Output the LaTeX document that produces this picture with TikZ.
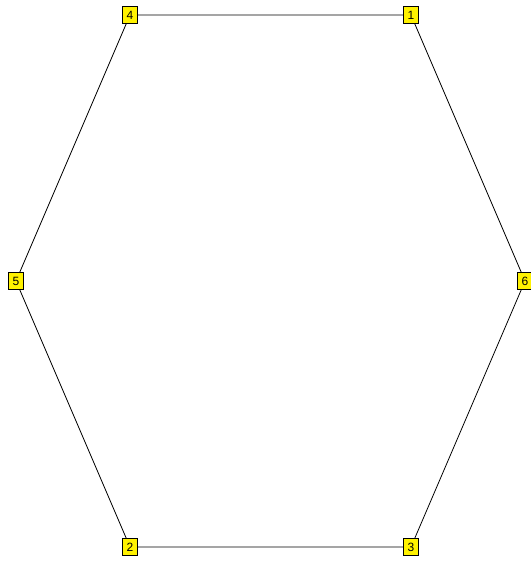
\documentclass[tikz,border=0pt]{standalone}
\usepackage{fontspec}
\setmainfont{Liberation Sans}
\begin{document}
\begin{tikzpicture}[x=1pt,y=-1pt,
  vbox/.style={draw=black,fill=yellow,line width=0.7pt,minimum width=15pt,minimum height=17pt,inner sep=0pt,font=\fontsize{12}{12}\selectfont},
  edge/.style={draw=black,line width=0.8pt}]
\useasboundingbox (0,0) rectangle (530,562);
\coordinate (c1) at (411,15);
\coordinate (c2) at (130,547);
\coordinate (c3) at (411,547);
\coordinate (c4) at (130,15);
\coordinate (c5) at (16,281);
\coordinate (c6) at (525,281);
\draw[edge] (c4) -- (c1) -- (c6) -- (c3) -- (c2) -- (c5) -- (c4);
\node[vbox] (n1) at (c1) {1};
\node[vbox] (n2) at (c2) {2};
\node[vbox] (n3) at (c3) {3};
\node[vbox] (n4) at (c4) {4};
\node[vbox] (n5) at (c5) {5};
\node[vbox] (n6) at (c6) {6};
\end{tikzpicture}
\end{document}
